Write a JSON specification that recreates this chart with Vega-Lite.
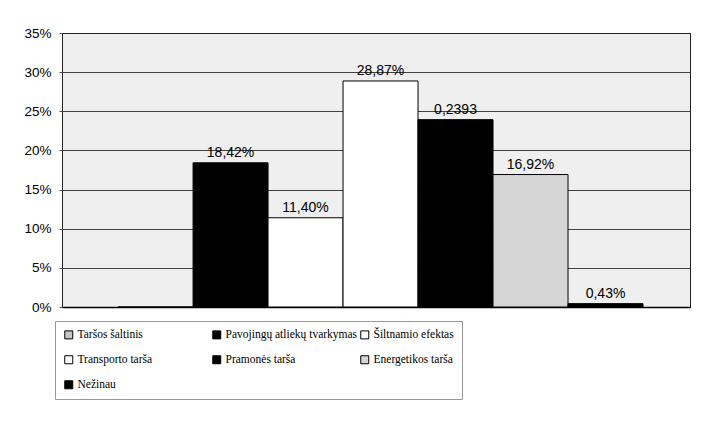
{
  "$schema": "https://vega.github.io/schema/vega-lite/v6.json",
  "width": 628,
  "height": 274,
  "autosize": {"type": "none"},
  "padding": {"left": 62, "top": 33, "right": 13, "bottom": 118},
  "background": "white",
  "config": {
    "view": {"fill": "#efefef", "stroke": "#222222", "strokeWidth": 1}
  },
  "data": {
    "values": [
      {"series": "Taršos šaltinis", "value": 0, "label": ""},
      {"series": "Pavojingų atliekų tvarkymas", "value": 0.1842, "label": "18,42%"},
      {"series": "Šiltnamio efektas", "value": 0.114, "label": "11,40%"},
      {"series": "Transporto tarša", "value": 0.2887, "label": "28,87%"},
      {"series": "Pramonės tarša", "value": 0.2393, "label": "0,2393"},
      {"series": "Energetikos tarša", "value": 0.1692, "label": "16,92%"},
      {"series": "Nežinau", "value": 0.0043, "label": "0,43%"}
    ]
  },
  "encoding": {
    "x": {
      "field": "series",
      "type": "nominal",
      "sort": null,
      "scale": {
        "domain": ["Taršos šaltinis", "Pavojingų atliekų tvarkymas", "Šiltnamio efektas", "Transporto tarša", "Pramonės tarša", "Energetikos tarša", "Nežinau"],
        "paddingInner": 0,
        "paddingOuter": 0.687,
        "align": 0.544
      },
      "axis": {"labels": false, "ticks": false, "title": null, "domainColor": "#000000", "domainWidth": 1.5}
    },
    "y": {
      "field": "value",
      "type": "quantitative",
      "scale": {"domain": [0, 0.35], "nice": false},
      "axis": {
        "values": [0, 0.05, 0.1, 0.15, 0.2, 0.25, 0.3, 0.35],
        "format": ".0%",
        "title": null,
        "labelFont": "Liberation Sans",
        "labelFontSize": 13.5,
        "labelColor": "#000000",
        "labelPadding": 8,
        "tickSize": 3,
        "tickColor": "#555555",
        "domain": false,
        "gridColor": "#222222",
        "gridWidth": 1,
        "gridOpacity": 0.85
      }
    }
  },
  "layer": [
    {
      "mark": {"type": "bar", "stroke": "#000000", "strokeWidth": 1},
      "encoding": {
        "color": {
          "field": "series",
          "type": "nominal",
          "scale": {
            "domain": ["Taršos šaltinis", "Pavojingų atliekų tvarkymas", "Šiltnamio efektas", "Transporto tarša", "Pramonės tarša", "Energetikos tarša", "Nežinau"],
            "range": ["#c4c4c4", "#000000", "#ffffff", "#ffffff", "#000000", "#d6d6d6", "#000000"]
          },
          "legend": {
            "title": null,
            "orient": "none",
            "legendX": -7,
            "legendY": 288,
            "direction": "horizontal",
            "columns": 3,
            "gridAlign": "all",
            "columnPadding": 0,
            "rowPadding": 12,
            "padding": 8,
            "strokeColor": "#999999",
            "symbolType": "square",
            "symbolSize": 64,
            "symbolStrokeColor": "#000000",
            "symbolStrokeWidth": 1,
            "symbolOpacity": 1,
            "labelFont": "Liberation Serif",
            "labelFontSize": 11.5,
            "labelColor": "#000000",
            "labelLimit": 200,
            "labelOffset": 3
          }
        }
      }
    },
    {
      "mark": {"type": "text", "dy": -10, "font": "Liberation Sans", "fontSize": 14, "color": "#000000"},
      "encoding": {"text": {"field": "label"}}
    }
  ]
}
